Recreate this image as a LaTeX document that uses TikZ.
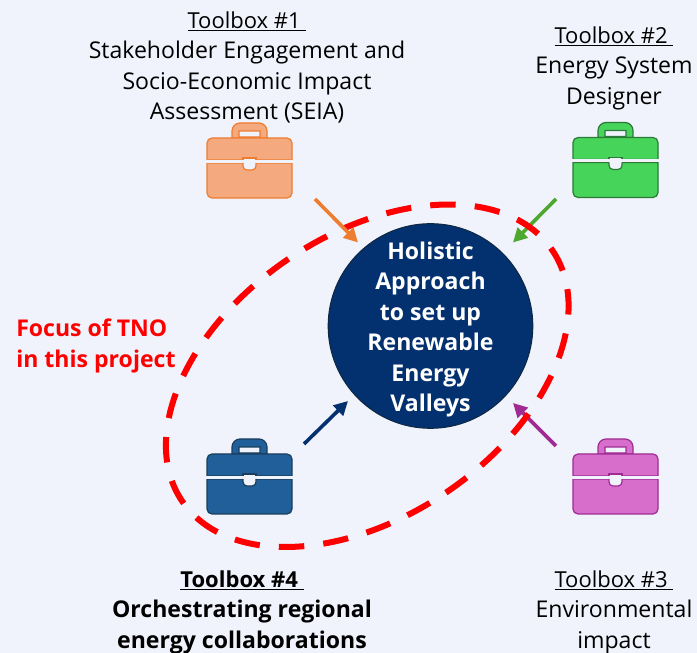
\documentclass[tikz,border=0pt]{standalone}
\usepackage{fontspec}
\setmainfont{Open Sans}
\usetikzlibrary{arrows.meta}
\definecolor{bgc}{HTML}{F0F3FB}
\definecolor{hubc}{HTML}{03306F}
\definecolor{hubline}{HTML}{0E2841}
\definecolor{redc}{HTML}{FF0000}
\definecolor{orfill}{HTML}{F4A97F}
\definecolor{orline}{HTML}{ED7D31}
\definecolor{grfill}{HTML}{47D45A}
\definecolor{grline}{HTML}{2B7A38}
\definecolor{grarrow}{HTML}{4EA72E}
\definecolor{pufill}{HTML}{D86ECC}
\definecolor{puline}{HTML}{A02B93}
\definecolor{blfill}{HTML}{215F9A}
\definecolor{blline}{HTML}{1A3E5C}
\newcommand{\tbhead}[1]{{\fontsize{16.5}{22.9}\selectfont\underline{#1\ }}}
\tikzset{
  x=0.75pt,y=0.75pt,
  lbl/.style={font=\fontsize{17.3}{22.9}\selectfont,align=center,text=black,inner sep=0pt},
  lblb/.style={lbl,font=\fontsize{17.3}{22.9}\selectfont\bfseries},
  conn/.style={line width=2.7pt,-{Triangle[length=10.5pt,width=10.5pt]}},
  pics/briefcase/.style n args={2}{code={
    \path[fill=#1,draw=#2,line width=0.9pt,even odd rule]
      (25,0) -- (25,7) arc[start angle=180,end angle=90,radius=8] -- (52,15) arc[start angle=90,end angle=0,radius=8] -- (60,0) -- cycle
      (32,1) rectangle (53,7);
    \path[fill=#1,draw=#2,line width=0.9pt]
      (0,-22) -- (0,-5) arc[start angle=180,end angle=90,radius=5] -- (80,0) arc[start angle=90,end angle=0,radius=5] -- (85,-22) -- cycle;
    \path[fill=#1,draw=#2,line width=0.9pt]
      (0,-25) -- (0,-55) arc[start angle=180,end angle=270,radius=5] -- (80,-60) arc[start angle=270,end angle=360,radius=5] -- (85,-25) -- cycle;
    \path[fill=bgc] (36,-20) -- (36,-28) arc[start angle=180,end angle=270,radius=4] -- (45,-32) arc[start angle=270,end angle=360,radius=4] -- (49,-20) -- cycle;
    \path[fill=bgc] (-1,-22) rectangle (86,-25);
    \path[draw=#2,line width=0.9pt] (36,-25) -- (36,-28) arc[start angle=180,end angle=270,radius=4] -- (45,-32) arc[start angle=270,end angle=360,radius=4] -- (49,-25);
    \path[draw=#2,line width=0.9pt] (36,-22) -- (36,-20) -- (49,-20) -- (49,-22);
  }},
}
\begin{document}
\begin{tikzpicture}
\useasboundingbox[fill=bgc] (0,0) rectangle (697,653);
% briefcases
\pic (caseA) at (207,515) {briefcase={orfill}{orline}};
\pic (caseB) at (573,515.5) {briefcase={grfill}{grline}};
\pic (caseC) at (573,199) {briefcase={pufill}{puline}};
\pic (caseD) at (207,199) {briefcase={blfill}{blline}};
% arrow ends
\coordinate (aS) at (315,454);
\coordinate (aE) at (358,410.5);
\coordinate (bS) at (556,454);
\coordinate (bE) at (513,410.5);
\coordinate (cS) at (556,207);
\coordinate (cE) at (513,250);
\coordinate (dS) at (304,209);
\coordinate (dE) at (348,252);
\node[circle,fill=hubc,draw=hubline,line width=0.75pt,minimum size=153.5pt,inner sep=0pt] (hub) at (430.5,327) {};
\draw[conn,color=grarrow] (bS) -- (bE);
\draw[conn,color=puline] (cS) -- (cE);
\draw[redc,line width=4.5pt,dash pattern=on 19.1pt off 14.36pt,dash phase=17pt,rotate around={34.1:(367.25,277.25)}] (367.25,277.25) ellipse[x radius=223.6,y radius=140.9];
\draw[conn,color=orline] (aS) -- (aE);
\draw[conn,color=hubc] (dS) -- (dE);
% texts
\node[lbl,anchor=base] (t1) at (247,533) {\tbhead{Toolbox \#1}\\Stakeholder Engagement and\\Socio-Economic Impact\\Assessment (SEIA)};
\node[lbl,anchor=base] (t2) at (614,548.5) {\tbhead{Toolbox \#2}\\Energy System\\Designer};
\node[lbl,anchor=base] (t3) at (614,4.5) {\tbhead{Toolbox \#3}\\Environmental\\impact};
\node[lblb,anchor=base] (t4) at (242,4.5) {\tbhead{Toolbox \#4}\\Orchestrating regional\\energy collaborations};
\node[lblb,anchor=base west,align=left,text=redc] (focus) at (16,285.5) {Focus of TNO\\in this project};
\node[lblb,anchor=base,text=white] (hubtxt) at (430.5,241) {Holistic\\Approach\\to set up\\Renewable\\Energy\\Valleys};
\end{tikzpicture}
\end{document}
